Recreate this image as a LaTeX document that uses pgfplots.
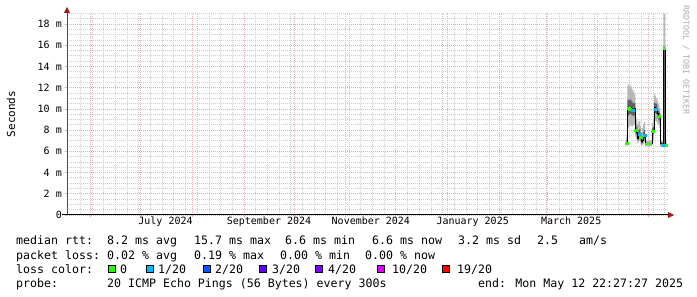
\documentclass[border=0pt]{standalone}
\usepackage{fontspec}
\setmainfont{DejaVu Sans Mono}
\usepackage{pgfplots}
\pgfplotsset{compat=1.18}
\usepgfplotslibrary{fillbetween}
\usepackage{pgfplotstable}

\definecolor{lossc0}{HTML}{26FF00}
\definecolor{lossc1}{HTML}{00B8FF}
\definecolor{lossc2}{HTML}{0059FF}
\definecolor{lossc3}{HTML}{5E00FF}
\definecolor{lossc4}{HTML}{7E00FF}
\definecolor{lossc10}{HTML}{DD00FF}
\definecolor{lossc19}{HTML}{FF0000}
\definecolor{majgrid}{HTML}{F0A8A8}
\definecolor{mingrid}{HTML}{CDCDCD}
\definecolor{arrowred}{HTML}{A01818}

% day = days since 2024-07-01; values in ms
\pgfplotstableread{
d lo ilo med ihi hi
291.0 6.5 6.6 6.8 7.1 7.6
291.6 8.3 9.4 10.0 10.8 12.2
292.2 8.2 9.4 10.1 10.9 12.4
292.8 8.4 9.5 10.0 10.8 12.1
293.4 8.5 9.5 10.1 10.9 12.3
294.0 8.3 9.4 10.0 10.7 11.9
294.6 8.4 9.4 9.9 10.6 11.8
295.2 8.5 9.3 9.8 10.5 11.6
295.8 8.6 9.4 10.0 10.6 11.4
296.4 7.3 7.7 8.0 8.5 9.2
297.0 7.1 7.5 7.8 8.3 9.0
297.6 6.8 7.0 7.2 7.7 8.6
298.2 6.9 7.2 7.5 8.0 8.8
298.8 7.0 7.3 7.6 8.1 8.9
299.4 6.8 7.0 7.3 7.7 8.3
299.9 6.5 6.7 6.9 7.2 7.7
300.5 6.6 6.8 7.0 7.4 8.2
301.1 6.7 7.0 7.3 7.8 8.6
301.7 6.9 7.2 7.5 8.0 8.8
302.3 6.5 6.6 6.7 6.8 7.0
306.5 7.0 7.5 7.9 8.2 8.7
307.1 7.1 7.6 7.9 8.3 8.9
307.7 8.8 9.6 10.1 10.6 11.4
308.3 8.9 9.6 10.0 10.5 11.2
308.9 8.8 9.5 10.0 10.5 11.0
309.6 8.6 9.2 9.6 10.0 10.7
310.2 8.5 9.0 9.4 9.8 10.4
310.8 8.2 8.8 9.2 9.6 10.1
311.4 6.4 6.6 6.7 6.9 7.1
312.0 6.4 6.5 6.6 6.8 7.0
312.6 6.4 6.5 6.6 6.8 7.0
313.2 6.5 6.6 15.7 15.9 19.0
313.8 6.5 6.6 15.7 15.6 18.9
314.4 6.4 6.5 6.6 6.8 7.1
315.0 6.4 6.5 6.6 6.8 7.1
}\smoke

\pgfplotstableread{
d v
291.3 6.8
292.5 10.1
293.1 10.0
296.7 8.0
299.7 7.3
306.8 7.9
310.5 9.3
312.3 6.6
313.5 15.7
314.7 6.6
}\greenpts

\pgfplotstableread{
d v
294.9 9.9
299.1 7.6
302.0 7.5
308.6 10.0
312.9 6.6
}\bluepts

\begin{document}
\begin{tikzpicture}
\path (0,0) rectangle (697bp,297bp);
\begin{axis}[
  at={(67bp,82bp)}, anchor=south west,
  scale only axis, width=601bp, height=202bp,
  xmin=-44, xmax=316, ymin=0, ymax=19.04,
  axis line style={draw=none},
  xtick={-30,0,31,62,92,123,153,184,215,243,274,304},
  xticklabels={},
  minor xtick={-36,-29,...,314},
  ytick={0,2,...,18},
  yticklabels={0,2 m,4 m,6 m,8 m,10 m,12 m,14 m,16 m,18 m},
  minor ytick={0.5,1,...,19},
  grid=both,
  major grid style={majgrid, dash pattern=on 1bp off 1bp, line width=0.8bp},
  minor grid style={mingrid, dash pattern=on 1bp off 1bp, line width=0.8bp},
  major tick style={majgrid, line width=0.8bp},
  tick align=outside,
  major tick length=2.5bp,
  minor tick length=0pt,
  xtick pos=bottom, ytick pos=left,
  extra x ticks={15,77,138,199,258},
  extra x tick labels={July 2024,September 2024,November 2024,January 2025,March 2025},
  extra x tick style={grid=none, major tick length=0pt},
  tick label style={font=\fontsize{10bp}{12bp}\selectfont},
  xticklabel style={anchor=base, inner sep=0pt, yshift=-12.5bp+2.5bp},
  yticklabel style={anchor=east, inner sep=0pt, xshift=-5bp+2.5bp},
]
\addplot[const plot, draw=none, name path=hiA] table[x=d,y=hi]{\smoke};
\addplot[const plot, draw=none, name path=loA] table[x=d,y=lo]{\smoke};
\addplot[fill=black!28, draw=none] fill between[of=hiA and loA];
\addplot[const plot, draw=none, name path=hiB] table[x=d,y=ihi]{\smoke};
\addplot[const plot, draw=none, name path=loB] table[x=d,y=ilo]{\smoke};
\addplot[fill=black!62, draw=none] fill between[of=hiB and loB];
\addplot[const plot, black, line width=1bp] table[x=d,y=med]{\smoke};
\addplot[lossc0, line width=1.6bp] coordinates {(302.3,6.7) (306.5,6.7)};
\addplot[only marks, mark=square*, mark size=1.1bp, lossc0] table[x=d,y=v]{\greenpts};
\addplot[only marks, mark=square*, mark size=1.1bp, lossc1] table[x=d,y=v]{\bluepts};
\end{axis}
% axes
\draw[black!70, line width=1bp] (67bp,82bp) -- (67bp,285bp);
\draw[black, line width=1bp] (62bp,82bp) -- (669bp,82bp);
\fill[arrowred] (668bp,85bp) -- (674bp,82bp) -- (668bp,79bp) -- cycle;
\fill[arrowred] (64bp,284bp) -- (67bp,290bp) -- (70bp,284bp) -- cycle;
% titles
\node[rotate=90, font=\fontsize{11bp}{13bp}\selectfont] at (11bp,183bp) {Seconds};
\node[rotate=-90, text=black!32, font=\fontsize{8.3bp}{10bp}\selectfont] at (686bp,237bp) {RRDTOOL / TOBI OETIKER};
% legend
\begin{scope}[every node/.style={anchor=base west, inner sep=0pt, font=\fontsize{11.6bp}{14bp}\selectfont}]
\node at (16bp,52bp) {median rtt:};
\node at (107bp,52bp) {8.2 ms avg};
\node at (194bp,52bp) {15.7 ms max};
\node at (285bp,52bp) {6.6 ms min};
\node at (372bp,52bp) {6.6 ms now};
\node at (458bp,52bp) {3.2 ms sd};
\node at (537bp,52bp) {2.5};
\node at (579bp,52bp) {am/s};
\node at (16bp,38bp) {packet loss:};
\node at (107bp,38bp) {0.02 \% avg};
\node at (194bp,38bp) {0.19 \% max};
\node at (280bp,38bp) {0.00 \% min};
\node at (365bp,38bp) {0.00 \% now};
\node at (16bp,24bp) {loss color:};
\node at (120bp,24bp) {0};
\node at (158bp,24bp) {1/20};
\node at (215bp,24bp) {2/20};
\node at (272bp,24bp) {3/20};
\node at (328bp,24bp) {4/20};
\node at (392bp,24bp) {10/20};
\node at (457bp,24bp) {19/20};
\node at (16bp,10bp) {probe:};
\node at (107bp,10bp) {20 ICMP Echo Pings (56 Bytes) every 300s};
\node at (478bp,10bp) {end: Mon May 12 22:27:27 2025};
\end{scope}
\begin{scope}[line width=0.8bp]
\filldraw[fill=lossc0, draw=black] (108.5bp,24.5bp) rectangle (115.5bp,31.5bp);
\filldraw[fill=lossc1, draw=black] (146.5bp,24.5bp) rectangle (153.5bp,31.5bp);
\filldraw[fill=lossc2, draw=black] (203.5bp,24.5bp) rectangle (210.5bp,31.5bp);
\filldraw[fill=lossc3, draw=black] (259.5bp,24.5bp) rectangle (266.5bp,31.5bp);
\filldraw[fill=lossc4, draw=black] (315.5bp,24.5bp) rectangle (322.5bp,31.5bp);
\filldraw[fill=lossc10, draw=black] (377.5bp,24.5bp) rectangle (384.5bp,31.5bp);
\filldraw[fill=lossc19, draw=black] (442.5bp,24.5bp) rectangle (449.5bp,31.5bp);
\end{scope}
\end{tikzpicture}
\end{document}
